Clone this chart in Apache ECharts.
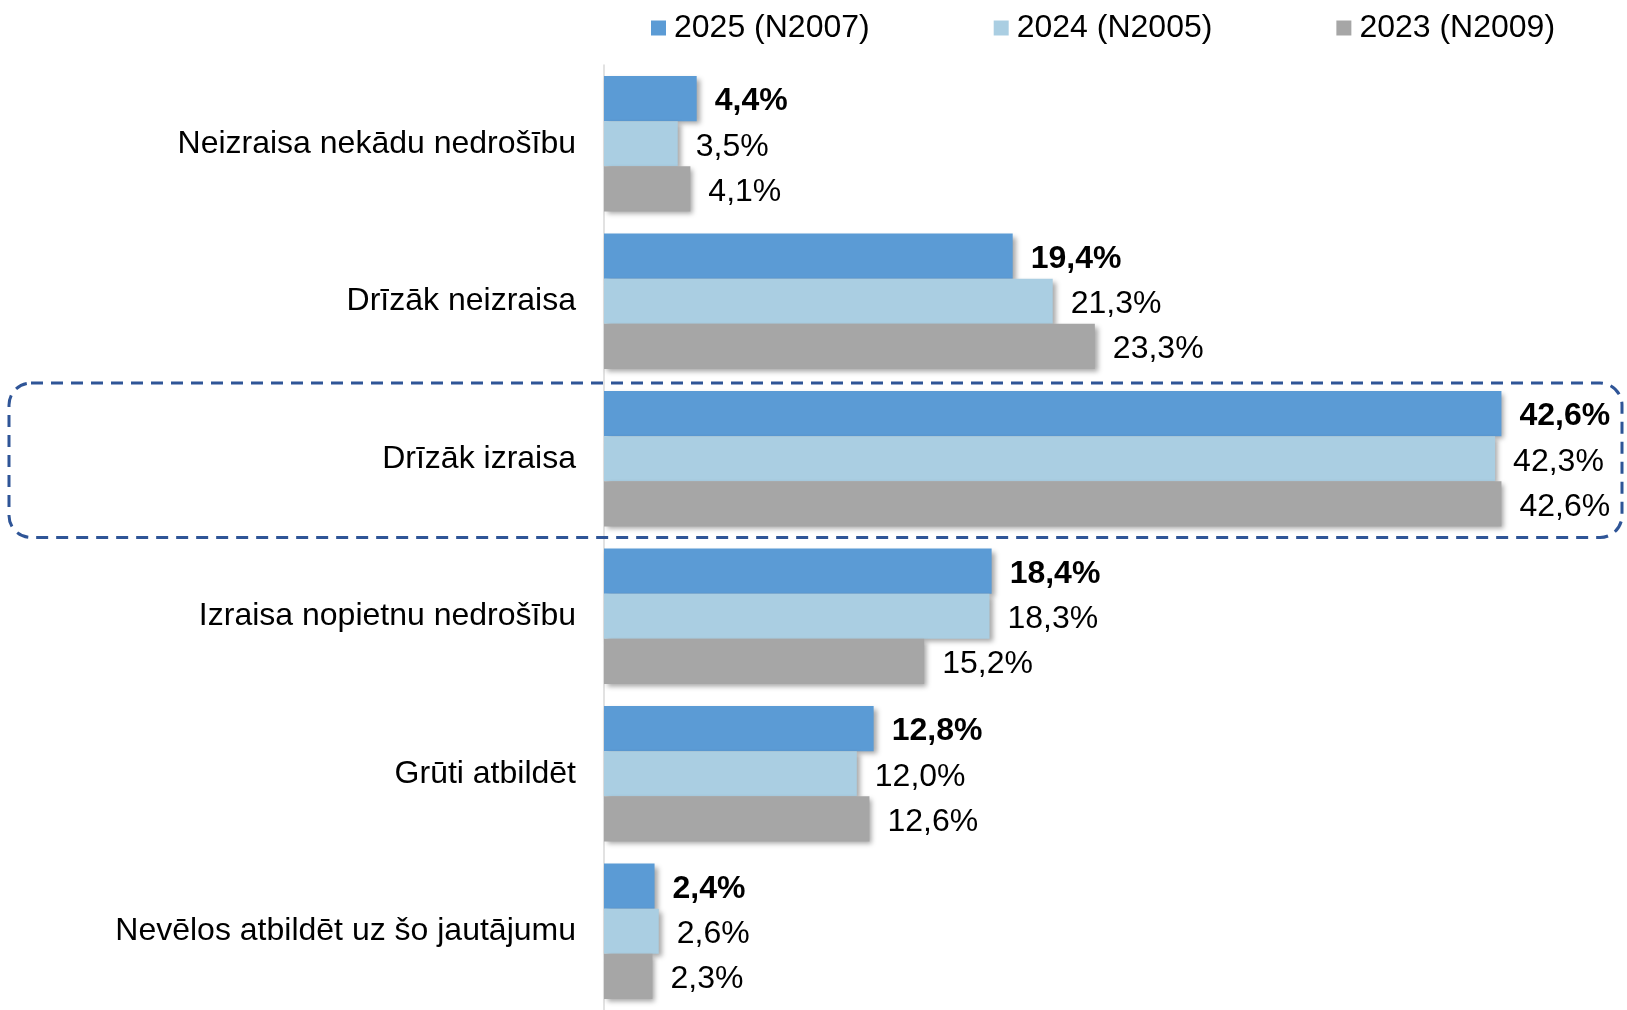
<!DOCTYPE html>
<html>
<head>
<meta charset="utf-8">
<script src="https://cdn.jsdelivr.net/npm/echarts@6/dist/echarts.min.js"></script>
<style>
    html, body { margin: 0; padding: 0; background: #fff; }
    #chart { width: 1627px; height: 1010px; }
</style>
</head>
<body>
<div id="chart"></div>
<script>
const categories = [
    "Neizraisa nekādu nedrošību",
    "Drīzāk neizraisa",
    "Drīzāk izraisa",
    "Izraisa nopietnu nedrošību",
    "Grūti atbildēt",
    "Nevēlos atbildēt uz šo jautājumu"
];
const seriesNames = ["2025 (N2007)", "2024 (N2005)", "2023 (N2009)"];
const values2025 = [4.4, 19.4, 42.6, 18.4, 12.8, 2.4];
const values2024 = [3.5, 21.3, 42.3, 18.3, 12.0, 2.6];
const values2023 = [4.1, 23.3, 42.6, 15.2, 12.6, 2.3];
const highlightIndex = 2;

const colors = ["#5B9BD5", "#AACEE2", "#A6A6A6"];
const font = "'Liberation Sans', Arial, sans-serif";

const fmt = p => p.value.toFixed(1).replace(".", ",") + "%";

const makeSeries = (name, data, color, bold) => ({
    name: name,
    type: "bar",
    data: data,
    barGap: "0%",
    barCategoryGap: "14%",
    itemStyle: {
        color: color,
        shadowColor: "rgba(0,0,0,0.35)",
        shadowBlur: 5,
        shadowOffsetX: 3,
        shadowOffsetY: 3
    },
    label: {
        show: true,
        position: "right",
        distance: 18,
        offset: [0, 3],
        formatter: fmt,
        color: "#000",
        fontFamily: font,
        fontSize: 32,
        fontWeight: bold ? "bold" : "normal"
    }
});

const chart = echarts.init(document.getElementById("chart"), null, { renderer: "canvas" });
chart.setOption({
    animation: false,
    backgroundColor: "#fff",
    legend: {
        top: 7,
        left: 646,
        itemWidth: 15,
        itemHeight: 15,
        itemGap: 124,
        icon: "rect",
        textStyle: { fontFamily: font, fontSize: 32, color: "#000", padding: [0, 0, 0, 3] },
        data: seriesNames
    },
    grid: { left: 604, right: 75, top: 65, bottom: -3, containLabel: false },
    xAxis: {
        type: "value",
        min: 0,
        max: 45,
        show: false
    },
    yAxis: {
        type: "category",
        inverse: true,
        data: categories,
        axisTick: { show: false },
        axisLine: { show: true, lineStyle: { color: "#D9D9D9", width: 1.5 } },
        axisLabel: { fontFamily: font, fontSize: 32, color: "#000", margin: 28, padding: [4, 0, 0, 0] }
    },
    series: [
        makeSeries(seriesNames[0], values2025, colors[0], true),
        makeSeries(seriesNames[1], values2024, colors[1], false),
        makeSeries(seriesNames[2], values2023, colors[2], false)
    ]
});

// dashed frame around the highlighted category band
const yc = chart.convertToPixel({ yAxisIndex: 0 }, highlightIndex);
const band = Math.abs(chart.convertToPixel({ yAxisIndex: 0 }, highlightIndex + 1) - yc);
chart.setOption({
    graphic: [{
        type: "rect",
        z: 100,
        shape: { x: 9, y: yc - band / 2 + 3, width: 1613, height: band - 3, r: 22 },
        style: { fill: "none", stroke: "#2F5597", lineWidth: 3, lineDash: [12, 8] }
    }]
});
</script>
</body>
</html>
